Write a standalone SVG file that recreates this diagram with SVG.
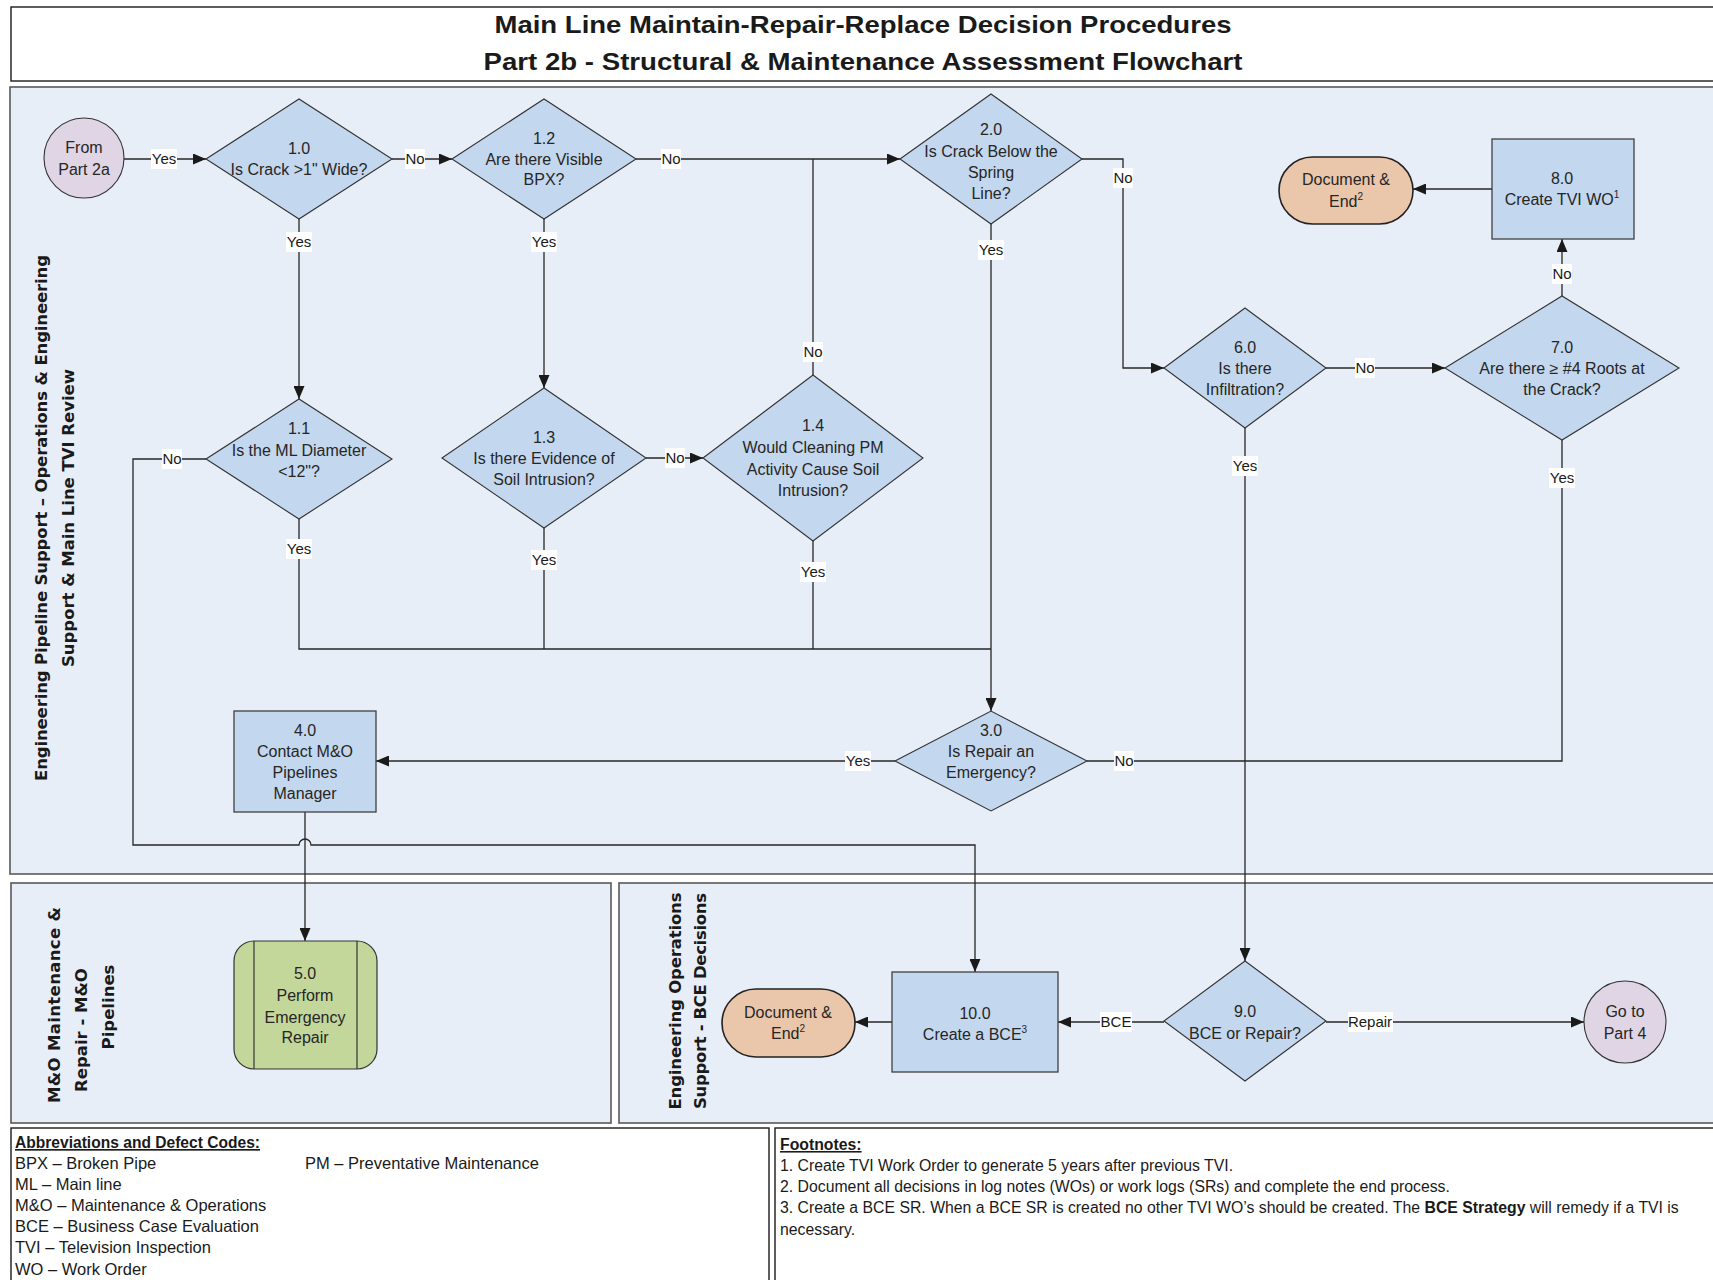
<svg xmlns="http://www.w3.org/2000/svg" width="1713" height="1280" viewBox="0 0 1713 1280">
  <defs>
    <marker id="arrow" markerUnits="userSpaceOnUse" markerWidth="13" markerHeight="11" refX="13" refY="5.5" orient="auto">
      <path d="M0,0 L13,5.5 L0,11 z" fill="#1a1a1a"/>
    </marker>
    <style>
      .lane { fill: #E8EEF7; stroke: #595959; stroke-width: 1.6; }
      .box { fill: #FFFFFF; stroke: #1a1a1a; stroke-width: 1.4; }
      .dec { fill: #C3D7EE; stroke: #333333; stroke-width: 1.1; }
      .proc { fill: #C3D7EE; stroke: #404040; stroke-width: 1.3; }
      .term { fill: #EAC6AA; stroke: #222222; stroke-width: 1.6; }
      .conn { fill: #DFD5E5; stroke: #333333; stroke-width: 1.1; }
      .rep { fill: #C4D79B; stroke: #333333; stroke-width: 1.2; }
      .edge { fill: none; stroke: #262626; stroke-width: 1.3; }
      .t { font-family: "Liberation Sans", Arial, sans-serif; font-size: 16px; fill: #262626; text-anchor: middle; }
      .sup { font-size: 10px; }
      .lbl { font-family: "Liberation Sans", Arial, sans-serif; font-size: 15px; fill: #1a1a1a; text-anchor: middle; }
      .lblbg { fill: #FFFFFF; }
      .title { font-family: "Liberation Sans", Arial, sans-serif; font-size: 24px; font-weight: bold; fill: #1a1a1a; text-anchor: middle; }
      .lanet { font-family: "DejaVu Sans", Verdana, sans-serif; font-size: 16.5px; font-weight: bold; fill: #1a1a1a; text-anchor: middle; }
      .leg { font-family: "Liberation Sans", Arial, sans-serif; font-size: 16.5px; fill: #1a1a1a; }
      .foot { font-family: "Liberation Sans", Arial, sans-serif; font-size: 15.8px; fill: #1a1a1a; }
    </style>
  </defs>

  <rect width="1713" height="1280" fill="#FFFFFF"/>

  <!-- title block -->
  <g id="title">
    <rect x="11" y="7" width="1712" height="74" class="box" stroke-width="1.6"/>
    <text x="863" y="33" class="title" textLength="737" lengthAdjust="spacingAndGlyphs">Main Line Maintain-Repair-Replace Decision Procedures</text>
    <text x="863" y="70" class="title" textLength="759" lengthAdjust="spacingAndGlyphs">Part 2b - Structural &amp; Maintenance Assessment Flowchart</text>
  </g>

  <!-- swimlanes -->
  <g id="lanes">
    <rect x="10" y="87" width="1712" height="787" class="lane"/>
    <rect x="11" y="883" width="600" height="240" class="lane"/>
    <rect x="619" y="883" width="1104" height="240" class="lane"/>
    <text class="lanet" transform="translate(47,518) rotate(-90)" textLength="526">Engineering Pipeline Support – Operations &amp; Engineering</text>
    <text class="lanet" transform="translate(74,518) rotate(-90)" textLength="298">Support &amp; Main Line TVI Review</text>
    <text class="lanet" transform="translate(60,1005) rotate(-90)" textLength="196">M&amp;O Maintenance &amp;</text>
    <text class="lanet" transform="translate(87,1030) rotate(-90)">Repair - M&amp;O</text>
    <text class="lanet" transform="translate(114,1007) rotate(-90)">Pipelines</text>
    <text class="lanet" transform="translate(681,1001) rotate(-90)" textLength="217">Engineering Operations</text>
    <text class="lanet" transform="translate(706,1001) rotate(-90)" textLength="216">Support - BCE Decisions</text>
  </g>

  <!-- connectors -->
  <g id="connectors">
    <path class="edge" d="M124,159 H206" marker-end="url(#arrow)"/>
    <path class="edge" d="M392,159 H452" marker-end="url(#arrow)"/>
    <path class="edge" d="M299,219 V399" marker-end="url(#arrow)"/>
    <path class="edge" d="M544,219 V388" marker-end="url(#arrow)"/>
    <path class="edge" d="M636,159 H900" marker-end="url(#arrow)"/>
    <path class="edge" d="M813,375 V159"/>
    <path class="edge" d="M646,458 H703" marker-end="url(#arrow)"/>
    <path class="edge" d="M1082,159 H1123 V368 H1164" marker-end="url(#arrow)"/>
    <path class="edge" d="M1326,368 H1445" marker-end="url(#arrow)"/>
    <path class="edge" d="M1562,296 V239" marker-end="url(#arrow)"/>
    <path class="edge" d="M1492,189 H1413" marker-end="url(#arrow)"/>
    <!-- Yes branches merging into 3.0 -->
    <path class="edge" d="M299,519 V649 H991"/>
    <path class="edge" d="M544,528 V649"/>
    <path class="edge" d="M813,541 V649"/>
    <path class="edge" d="M991,224 V711" marker-end="url(#arrow)"/>
    <!-- 1.1 No route to 10.0, hopping over the 4.0 line -->
    <path class="edge" d="M206,459 H133 V845 H299 A6,6 0 0 1 311,845 H975 V972" marker-end="url(#arrow)"/>
    <path class="edge" d="M895,761 H376" marker-end="url(#arrow)"/>
    <path class="edge" d="M305,812 V941" marker-end="url(#arrow)"/>
    <path class="edge" d="M1087,761 H1562 V440"/>
    <path class="edge" d="M1245,428 V961" marker-end="url(#arrow)"/>
    <path class="edge" d="M1164,1022 H1058" marker-end="url(#arrow)"/>
    <path class="edge" d="M892,1022 H855" marker-end="url(#arrow)"/>
    <path class="edge" d="M1326,1022 H1584" marker-end="url(#arrow)"/>

    <!-- connector labels -->
    <g id="labels">
      <rect class="lblbg" x="151" y="149" width="26" height="20"/><text class="lbl" x="164" y="164">Yes</text>
      <rect class="lblbg" x="405" y="149" width="20" height="20"/><text class="lbl" x="415" y="164">No</text>
      <rect class="lblbg" x="286" y="232" width="26" height="20"/><text class="lbl" x="299" y="247">Yes</text>
      <rect class="lblbg" x="531" y="232" width="26" height="20"/><text class="lbl" x="544" y="247">Yes</text>
      <rect class="lblbg" x="661" y="149" width="20" height="20"/><text class="lbl" x="671" y="164">No</text>
      <rect class="lblbg" x="162" y="449" width="20" height="20"/><text class="lbl" x="172" y="464">No</text>
      <rect class="lblbg" x="665" y="448" width="20" height="20"/><text class="lbl" x="675" y="463">No</text>
      <rect class="lblbg" x="803" y="342" width="20" height="20"/><text class="lbl" x="813" y="357">No</text>
      <rect class="lblbg" x="1113" y="168" width="20" height="20"/><text class="lbl" x="1123" y="183">No</text>
      <rect class="lblbg" x="978" y="240" width="26" height="20"/><text class="lbl" x="991" y="255">Yes</text>
      <rect class="lblbg" x="1355" y="358" width="20" height="20"/><text class="lbl" x="1365" y="373">No</text>
      <rect class="lblbg" x="1552" y="264" width="20" height="20"/><text class="lbl" x="1562" y="279">No</text>
      <rect class="lblbg" x="1232" y="456" width="26" height="20"/><text class="lbl" x="1245" y="471">Yes</text>
      <rect class="lblbg" x="1549" y="468" width="26" height="20"/><text class="lbl" x="1562" y="483">Yes</text>
      <rect class="lblbg" x="286" y="539" width="26" height="20"/><text class="lbl" x="299" y="554">Yes</text>
      <rect class="lblbg" x="531" y="550" width="26" height="20"/><text class="lbl" x="544" y="565">Yes</text>
      <rect class="lblbg" x="800" y="562" width="26" height="20"/><text class="lbl" x="813" y="577">Yes</text>
      <rect class="lblbg" x="845" y="751" width="26" height="20"/><text class="lbl" x="858" y="766">Yes</text>
      <rect class="lblbg" x="1114" y="751" width="20" height="20"/><text class="lbl" x="1124" y="766">No</text>
      <rect class="lblbg" x="1100" y="1012" width="32" height="20"/><text class="lbl" x="1116" y="1027">BCE</text>
      <rect class="lblbg" x="1348" y="1012" width="45" height="20"/><text class="lbl" x="1370" y="1027">Repair</text>
    </g>
  </g>

  <!-- nodes -->
  <g id="n-from">
    <ellipse cx="84" cy="158" rx="40" ry="40" class="conn"/>
    <text class="t"><tspan x="84" y="153">From</tspan><tspan x="84" y="175">Part 2a</tspan></text>
  </g>

  <g id="n1_0">
    <polygon class="dec" points="206,159 299,99 392,159 299,219"/>
    <text class="t"><tspan x="299" y="154">1.0</tspan><tspan x="299" y="175">Is Crack &gt;1" Wide?</tspan></text>
  </g>

  <g id="n1_2">
    <polygon class="dec" points="452,159 544,99 636,159 544,219"/>
    <text class="t"><tspan x="544" y="144">1.2</tspan><tspan x="544" y="165">Are there Visible</tspan><tspan x="544" y="185">BPX?</tspan></text>
  </g>

  <g id="n2_0">
    <polygon class="dec" points="900,159 991,94 1082,159 991,224"/>
    <text class="t"><tspan x="991" y="135">2.0</tspan><tspan x="991" y="157">Is Crack Below the</tspan><tspan x="991" y="178">Spring</tspan><tspan x="991" y="199">Line?</tspan></text>
  </g>

  <g id="n1_1">
    <polygon class="dec" points="206,459 299,399 392,459 299,519"/>
    <text class="t"><tspan x="299" y="434">1.1</tspan><tspan x="299" y="456">Is the ML Diameter</tspan><tspan x="299" y="477">&lt;12"?</tspan></text>
  </g>

  <g id="n1_3">
    <polygon class="dec" points="442,458 544,388 646,458 544,528"/>
    <text class="t"><tspan x="544" y="443">1.3</tspan><tspan x="544" y="464">Is there Evidence of</tspan><tspan x="544" y="485">Soil Intrusion?</tspan></text>
  </g>

  <g id="n1_4">
    <polygon class="dec" points="703,458 813,375 923,458 813,541"/>
    <text class="t"><tspan x="813" y="431">1.4</tspan><tspan x="813" y="453">Would Cleaning PM</tspan><tspan x="813" y="475">Activity Cause Soil</tspan><tspan x="813" y="496">Intrusion?</tspan></text>
  </g>

  <g id="n6_0">
    <polygon class="dec" points="1164,368 1245,308 1326,368 1245,428"/>
    <text class="t"><tspan x="1245" y="353">6.0</tspan><tspan x="1245" y="374">Is there</tspan><tspan x="1245" y="395">Infiltration?</tspan></text>
  </g>

  <g id="n7_0">
    <polygon class="dec" points="1445,368 1562,296 1679,368 1562,440"/>
    <text class="t"><tspan x="1562" y="353">7.0</tspan><tspan x="1562" y="374">Are there ≥ #4 Roots at</tspan><tspan x="1562" y="395">the Crack?</tspan></text>
  </g>

  <g id="n8_0">
    <rect x="1492" y="139" width="142" height="100" class="proc"/>
    <text class="t"><tspan x="1562" y="184">8.0</tspan><tspan x="1562" y="205">Create TVI WO<tspan class="sup" dy="-7">1</tspan></tspan></text>
  </g>

  <g id="n-end-1">
    <rect x="1279" y="157" width="134" height="67" rx="33.5" ry="33.5" class="term"/>
    <text class="t"><tspan x="1346" y="185">Document &amp;</tspan><tspan x="1346" y="207">End<tspan class="sup" dy="-7">2</tspan></tspan></text>
  </g>

  <g id="n3_0">
    <polygon class="dec" points="895,761 991,711 1087,761 991,811"/>
    <text class="t"><tspan x="991" y="736">3.0</tspan><tspan x="991" y="757">Is Repair an</tspan><tspan x="991" y="778">Emergency?</tspan></text>
  </g>

  <g id="n4_0">
    <rect x="234" y="711" width="142" height="101" class="proc"/>
    <text class="t"><tspan x="305" y="736">4.0</tspan><tspan x="305" y="757">Contact M&amp;O</tspan><tspan x="305" y="778">Pipelines</tspan><tspan x="305" y="799">Manager</tspan></text>
  </g>

  <g id="n5_0">
    <rect x="234" y="941" width="143" height="128" rx="20" ry="20" class="rep"/>
    <line x1="254" y1="941" x2="254" y2="1069" stroke="#333333" stroke-width="1.2"/>
    <line x1="357" y1="941" x2="357" y2="1069" stroke="#333333" stroke-width="1.2"/>
    <text class="t"><tspan x="305" y="979">5.0</tspan><tspan x="305" y="1001">Perform</tspan><tspan x="305" y="1023">Emergency</tspan><tspan x="305" y="1043">Repair</tspan></text>
  </g>

  <g id="n-end-2">
    <rect x="722" y="989" width="133" height="68" rx="34" ry="34" class="term"/>
    <text class="t"><tspan x="788" y="1018">Document &amp;</tspan><tspan x="788" y="1039">End<tspan class="sup" dy="-7">2</tspan></tspan></text>
  </g>

  <g id="n10_0">
    <rect x="892" y="972" width="166" height="100" class="proc"/>
    <text class="t"><tspan x="975" y="1019">10.0</tspan><tspan x="975" y="1040">Create a BCE<tspan class="sup" dy="-7">3</tspan></tspan></text>
  </g>

  <g id="n9_0">
    <polygon class="dec" points="1164,1021 1245,961 1326,1021 1245,1081"/>
    <text class="t"><tspan x="1245" y="1017">9.0</tspan><tspan x="1245" y="1039">BCE or Repair?</tspan></text>
  </g>

  <g id="n-goto">
    <ellipse cx="1625" cy="1022" rx="41" ry="41" class="conn"/>
    <text class="t"><tspan x="1625" y="1017">Go to</tspan><tspan x="1625" y="1039">Part 4</tspan></text>
  </g>

  <!-- legend -->
  <g id="abbreviations">
    <rect x="11" y="1128" width="758" height="160" class="box"/>
    <text class="leg" x="15" y="1148" font-weight="bold" text-decoration="underline" textLength="245" lengthAdjust="spacingAndGlyphs">Abbreviations and Defect Codes:</text>
    <text class="leg" x="15" y="1169">BPX – Broken Pipe</text>
    <text class="leg" x="305" y="1169">PM –  Preventative Maintenance</text>
    <text class="leg" x="15" y="1190">ML –  Main line</text>
    <text class="leg" x="15" y="1211">M&amp;O – Maintenance &amp; Operations</text>
    <text class="leg" x="15" y="1232">BCE – Business Case Evaluation</text>
    <text class="leg" x="15" y="1253">TVI  – Television Inspection</text>
    <text class="leg" x="15" y="1275">WO – Work Order</text>
  </g>

  <g id="footnotes">
    <rect x="775" y="1128" width="950" height="160" class="box"/>
    <text class="foot" x="780" y="1150" font-weight="bold" text-decoration="underline">Footnotes:</text>
    <text class="foot" x="780" y="1171">1. Create TVI Work Order to generate 5 years after previous TVI.</text>
    <text class="foot" x="780" y="1192">2. Document all decisions in log notes (WOs) or work logs (SRs) and complete the end process.</text>
    <text class="foot" x="780" y="1213">3. Create a BCE SR. When a BCE SR is created no other TVI WO’s should be created. The <tspan font-weight="bold">BCE Strategy</tspan> will remedy if a TVI is</text>
    <text class="foot" x="780" y="1235">necessary.</text>
  </g>
</svg>
